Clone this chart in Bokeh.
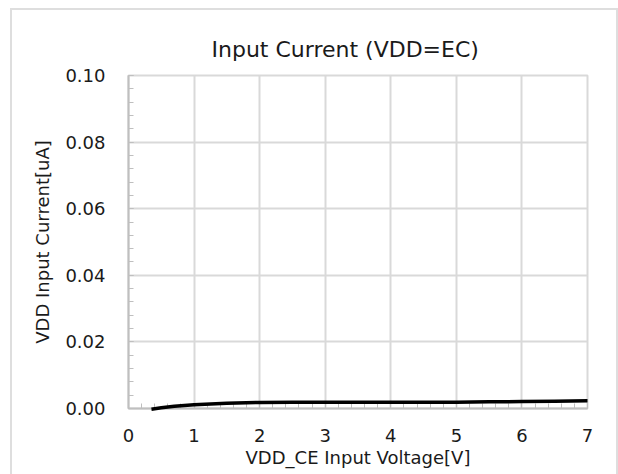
from bokeh.plotting import figure
from bokeh.models import SingleIntervalTicker, Range1d, PrintfTickFormatter
from bokeh.embed import file_html
from bokeh.resources import INLINE

voltage = [0.35, 0.5, 0.7, 1.0, 1.5, 2.0, 2.5, 3.0, 3.5, 4.0, 4.5, 5.0, 5.5, 6.0, 6.5, 7.0]
current = [-0.0002, 0.0002, 0.0007, 0.0011, 0.0016, 0.0018, 0.0019, 0.0019, 0.0019, 0.0019, 0.0019, 0.0019, 0.0020, 0.0021, 0.0022, 0.0023]

FONT = "DejaVu Sans"
TXT = "#1a1a1a"

p = figure(width=608, height=466, output_backend="svg", toolbar_location=None,
           x_range=Range1d(0, 7), y_range=Range1d(0, 0.1),
           title="Input Current (VDD=EC)",
           min_border_left=116, min_border_right=33, min_border_top=65, min_border_bottom=68)
p.styles = {"margin-left": "10px", "margin-top": "8px",
            "border-top": "2px solid #dedede", "border-left": "2px solid #dedede",
            "border-right": "2px solid #dedede", "box-sizing": "border-box"}

p.title.align = "left"
p.title.text_font = FONT
p.title.text_font_size = "22px"
p.title.text_font_style = "normal"
p.title.text_color = TXT
p.title.offset = 83
p.title.standoff = 28

p.xaxis.ticker = SingleIntervalTicker(interval=1, num_minor_ticks=5)
p.yaxis.ticker = SingleIntervalTicker(interval=0.02, num_minor_ticks=5)
p.yaxis.formatter = PrintfTickFormatter(format="%.2f")

for ax in (p.xaxis[0], p.yaxis[0]):
    ax.axis_line_color = "#bfbfbf"
    ax.axis_line_width = 2
    ax.major_tick_line_color = "#bfbfbf"
    ax.minor_tick_line_color = "#bfbfbf"
    ax.major_tick_in = 5
    ax.major_tick_out = 0
    ax.minor_tick_in = 5
    ax.minor_tick_out = 0
    ax.major_label_text_font = FONT
    ax.major_label_text_font_size = "18px"
    ax.major_label_text_color = TXT
    ax.axis_label_text_font = FONT
    ax.axis_label_text_font_size = "18px"
    ax.axis_label_text_font_style = "normal"
    ax.axis_label_text_color = TXT

p.xaxis.axis_label = "VDD_CE Input Voltage[V]"
p.yaxis.axis_label = "VDD Input Current[uA]"
p.xaxis.major_label_standoff = 20
p.yaxis.major_label_standoff = 23
p.xaxis.axis_label_standoff = 2
p.yaxis.axis_label_standoff = 9

p.xgrid.grid_line_color = "#d9d9d9"
p.ygrid.grid_line_color = "#d9d9d9"
p.xgrid.grid_line_width = 2
p.ygrid.grid_line_width = 2
p.outline_line_color = "#d9d9d9"
p.outline_line_width = 2

r = p.line(voltage, current, line_color="black", line_width=3.5)
r.level = "overlay"

open("out.html", "w").write(file_html(p, INLINE))
